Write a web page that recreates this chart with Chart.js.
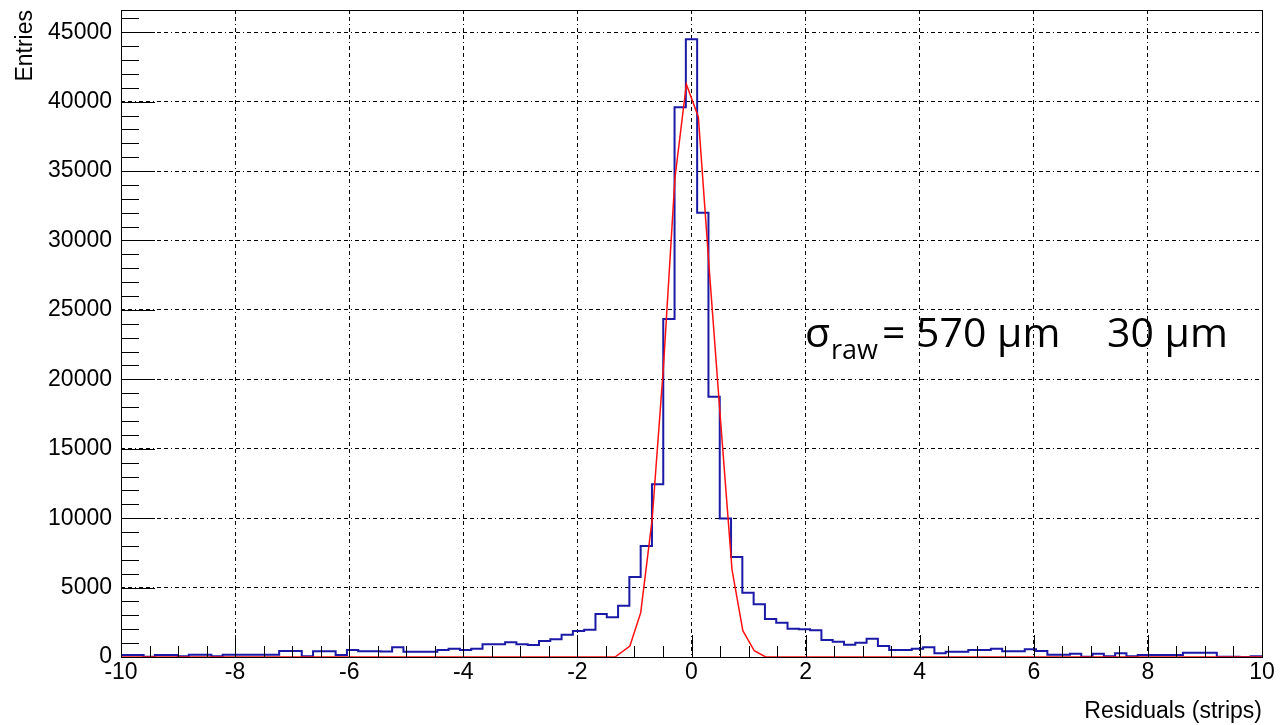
<!DOCTYPE html>
<html>
<head>
<meta charset="utf-8">
<script src="https://cdn.jsdelivr.net/npm/chart.js@4"></script>
<style>
  html, body { margin: 0; padding: 0; background: #fff; }
  #wrap { width: 1287px; height: 725px; position: relative; }
</style>
</head>
<body>
<div id="wrap"><canvas id="c"></canvas></div>
<script>
// histogram: 101 bins between -10 and 10
const xLow = -10
const xHigh = 10
const nBins = 101
const counts = [
  150, 150, 20, 150, 150, 50, 165, 165, 50, 165,
  165, 165, 165, 165, 430, 430, 50, 410, 410, 150,
  500, 410, 410, 400, 698, 382, 382, 382, 500, 598,
  500, 598, 914, 914, 1058, 914, 860, 1150, 1270, 1605,
  1870, 1965, 3095, 2855, 3700, 5760, 8000, 12450, 24350, 39600,
  44500, 32000, 18740, 9980, 7200, 4630, 3800, 2736, 2470, 2040,
  2000, 1920, 1224, 1100, 886, 1030, 1318, 792, 504, 504,
  598, 698, 266, 382, 382, 504, 504, 598, 420, 420,
  550, 430, 165, 165, 240, 20, 240, 50, 265, 50,
  150, 150, 150, 150, 300, 300, 300, 20, 20, 0,
  50
]

// gaussian fit curve
const fitX = [-10, -1.34, -1.08, -0.89, -0.69, -0.49, -0.29, -0.09, 0.12, 0.31, 0.51, 0.71, 0.90, 1.10, 1.30, 10]
const fitY = [0, 0, 790, 3190, 9900, 21000, 34500, 41250, 38900, 28000, 17000, 6300, 1900, 450, 0, 0]

const yMax = 46600
const xTicks = [-10, -8, -6, -4, -2, 0, 2, 4, 6, 8, 10]
const yTicks = [0, 5000, 10000, 15000, 20000, 25000, 30000, 35000, 40000, 45000]
const xMinorStep = 0.5
const yMinorStep = 1000

const fitLabel = { sigma: "σ", sub: "raw", value: "= 570 µm", error: "30 µm", x: 1.99, y: 22300 }

const binWidth = (xHigh - xLow) / nBins
const histPoints = counts.map((c, k) => ({ x: xLow + k * binWidth, y: c }))
histPoints.push({ x: xHigh, y: counts[counts.length - 1] })
const fitPoints = fitX.map((x, i) => ({ x: x, y: fitY[i] }))

const tickFont = { family: "'Liberation Sans', Arial, sans-serif", size: 23 }

// inward ROOT style ticks plus the box round the pad
const frameTicks = {
  id: "frameTicks",
  afterDatasetsDraw(chart) {
    const { ctx, chartArea: a, scales } = chart
    const xs = scales.x, ys = scales.y
    ctx.save()
    ctx.strokeStyle = "#000"
    ctx.lineWidth = 1
    ctx.beginPath()
    for (let v = xLow; v <= xHigh + 1e-9; v += xMinorStep) {
      const px = Math.round(xs.getPixelForValue(v)) + 0.5
      const major = xTicks.some((t) => Math.abs(t - v) < 1e-6)
      ctx.moveTo(px, a.bottom)
      ctx.lineTo(px, a.bottom - (major ? 22 : 11))
    }
    for (let v = 0; v <= yMax; v += yMinorStep) {
      const py = Math.round(ys.getPixelForValue(v)) + 0.5
      const major = yTicks.includes(v)
      ctx.moveTo(a.left, py)
      ctx.lineTo(a.left + (major ? 34 : 18), py)
    }
    ctx.stroke()
    ctx.strokeRect(Math.round(a.left) + 0.5, Math.round(a.top) + 0.5,
      Math.round(a.right - a.left), Math.round(a.bottom - a.top))
    ctx.restore()
  },
  afterDraw(chart) {
    const { ctx, scales } = chart
    const x0 = scales.x.getPixelForValue(fitLabel.x)
    const y0 = scales.y.getPixelForValue(fitLabel.y)
    ctx.save()
    ctx.fillStyle = "#000"
    ctx.textBaseline = "alphabetic"
    ctx.font = "41px 'Open Sans'"
    ctx.fillText(fitLabel.sigma, x0, y0)
    ctx.font = "27px 'Open Sans'"
    ctx.fillText(fitLabel.sub, x0 + 26, y0 + 12)
    ctx.font = "41px 'Open Sans'"
    ctx.fillText(fitLabel.value, x0 + 77, y0)
    ctx.fillText(fitLabel.error, x0 + 302, y0)
    ctx.restore()
  },
}

const gridDash = [4, 3, 4, 3, 1, 3]

new Chart(document.getElementById("c"), {
  type: "line",
  data: {
    datasets: [
      {
        data: fitPoints,
        borderColor: "#ff1010",
        borderWidth: 1.5,
        pointRadius: 0,
        tension: 0,
      },
      {
        data: histPoints,
        borderColor: "#1a1aa6",
        borderWidth: 2,
        pointRadius: 0,
        stepped: "before",
      },
    ],
  },
  options: {
    responsive: true,
    maintainAspectRatio: false,
    animation: false,
    layout: { padding: { left: 0, right: 25, top: 10, bottom: 0 } },
    plugins: {
      legend: { display: false },
      tooltip: { enabled: false },
    },
    scales: {
      x: {
        type: "linear",
        min: xLow,
        max: xHigh,
        afterFit: (s) => { s.height = 68; s.paddingLeft = 0; s.paddingRight = 0 },
        afterBuildTicks: (s) => { s.ticks = xTicks.map((v) => ({ value: v })) },
        ticks: {
          color: "#000",
          font: tickFont,
          padding: 2,
          maxRotation: 0,
          autoSkip: false,
          callback: (v) => String(v),
        },
        grid: { color: "#000", lineWidth: 1, drawTicks: false },
        border: { display: false, dash: gridDash },
        title: {
          display: true,
          text: "Residuals (strips)",
          align: "end",
          color: "#000",
          font: { family: "'Liberation Sans', Arial, sans-serif", size: 23 },
          padding: { top: 0, bottom: 0 },
        },
      },
      y: {
        type: "linear",
        min: 0,
        max: yMax,
        afterFit: (s) => { s.width = 121; s.paddingTop = 0; s.paddingBottom = 0 },
        afterBuildTicks: (s) => { s.ticks = yTicks.map((v) => ({ value: v })) },
        ticks: {
          color: "#000",
          font: tickFont,
          padding: 9,
          autoSkip: false,
          callback: (v) => String(v),
        },
        grid: { color: "#000", lineWidth: 1, drawTicks: false },
        border: { display: false, dash: gridDash },
        title: {
          display: true,
          text: "Entries",
          align: "end",
          color: "#000",
          font: { family: "'Liberation Sans', Arial, sans-serif", size: 23 },
          padding: { top: 12, bottom: 0 },
        },
      },
    },
  },
  plugins: [frameTicks],
})
</script>
</body>
</html>
